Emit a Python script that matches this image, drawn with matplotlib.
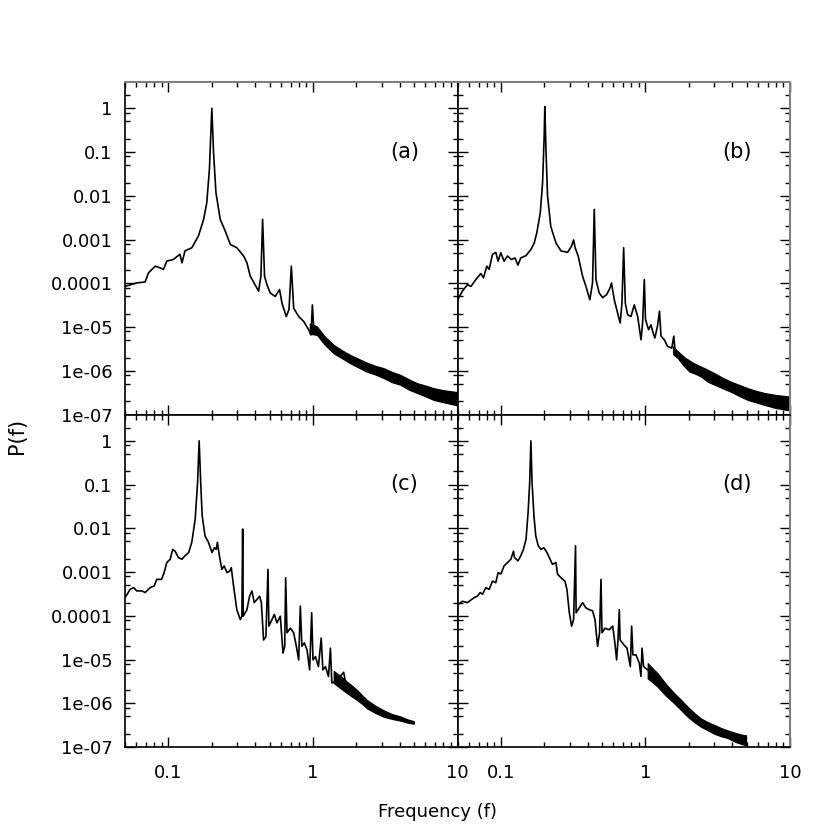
import matplotlib
matplotlib.use("Agg")
import matplotlib.pyplot as plt
from matplotlib.ticker import FixedLocator, LogLocator, NullFormatter

# ---------------- data ----------------
# panel (a)
fa = [0.05, 0.0604, 0.0689, 0.0727, 0.0809, 0.0875, 0.0923, 0.0973, 0.108, 0.120,
      0.124, 0.130, 0.145, 0.161, 0.175, 0.184, 0.192, 0.196, 0.1995, 0.205,
      0.213, 0.228, 0.247, 0.268, 0.297, 0.331, 0.349, 0.368, 0.409, 0.420,
      0.436, 0.448, 0.462, 0.480, 0.506, 0.548, 0.587, 0.610, 0.653, 0.682,
      0.708, 0.735, 0.796, 0.861, 0.933, 0.969, 0.990, 1.01, 1.12, 1.28,
      1.39, 1.81, 2.37, 3.09, 4.03, 5.26, 6.86, 9.95]
pa = [8.5e-5, 1.02e-4, 1.07e-4, 1.73e-4, 2.46e-4, 2.25e-4, 2.08e-4, 3.22e-4, 3.5e-4, 4.6e-4,
      2.94e-4, 5.5e-4, 6.5e-4, 1.2e-3, 2.9e-3, 6.9e-3, 0.041, 0.236, 1.0, 0.098,
      0.0118, 2.9e-3, 1.56e-3, 7.7e-4, 6.5e-4, 4.2e-4, 2.94e-4, 1.45e-4, 7.8e-5, 6.6e-5,
      1.45e-4, 2.9e-3, 1.45e-4, 9.3e-5, 6.0e-5, 5.0e-5, 7.2e-5, 3.5e-5, 1.74e-5, 2.5e-5,
      2.46e-4, 2.7e-5, 1.74e-5, 1.35e-5, 8.7e-6, 6.6e-6, 3.2e-5, 1.04e-5, 6.8e-6, 4.6e-6,
      3.1e-6, 1.9e-6, 1.25e-6, 8.1e-7, 5.7e-7, 4.2e-7, 3.1e-7, 2.35e-7]
tail_fa = [0.95, 1.066, 1.2, 1.39, 1.6, 1.81, 2.05, 2.34, 2.7, 3.08, 3.5, 4.02, 4.6,
           5.26, 6.0, 6.85, 8.0, 9.7, 10.0]
tail_lo_a = [7.0e-6, 6.6e-6, 4.0e-6, 2.5e-6, 1.9e-6, 1.48e-6, 1.2e-6, 9.6e-7, 8.2e-7, 6.8e-7,
             5.5e-7, 4.8e-7, 3.7e-7, 3.1e-7, 2.6e-7, 2.15e-7, 1.9e-7, 1.65e-7, 1.6e-7]
tail_hi_a = [1.2e-5, 1.03e-5, 6.2e-6, 3.9e-6, 2.9e-6, 2.3e-6, 1.9e-6, 1.55e-6, 1.3e-6, 1.15e-6,
             9.5e-7, 8.1e-7, 6.4e-7, 5.2e-7, 4.6e-7, 4.0e-7, 3.6e-7, 3.3e-7, 3.3e-7]

# panel (b)
fb = [0.0505, 0.054, 0.0586, 0.062, 0.067, 0.0725, 0.0756, 0.0798, 0.0828, 0.0873,
      0.092, 0.0955, 0.0997, 0.105, 0.111, 0.118, 0.125, 0.131, 0.137, 0.149,
      0.161, 0.170, 0.177, 0.187, 0.194, 0.199, 0.201, 0.205, 0.210, 0.221,
      0.240, 0.260, 0.289, 0.308, 0.318, 0.326, 0.342, 0.367, 0.387, 0.412,
      0.430, 0.442, 0.454, 0.478, 0.505, 0.538, 0.568, 0.582, 0.608, 0.641,
      0.668, 0.687, 0.706, 0.725, 0.752, 0.793, 0.836, 0.883, 0.931, 0.955,
      0.981, 1.0, 1.05, 1.09, 1.13, 1.16, 1.21, 1.25, 1.28, 1.35,
      1.42, 1.52, 1.57, 1.60, 1.71, 1.96, 2.30, 2.70, 3.52, 4.59,
      5.99, 7.81, 9.9]
pb = [4.4e-5, 6.6e-5, 9.3e-5, 8.5e-5, 1.22e-4, 1.67e-4, 1.33e-4, 2.46e-4, 2.08e-4, 4.6e-4,
      5.1e-4, 3.2e-4, 5.0e-4, 3.2e-4, 4.2e-4, 3.5e-4, 3.8e-4, 2.6e-4, 3.8e-4, 4.3e-4,
      5.9e-4, 8.4e-4, 1.44e-3, 4.1e-3, 0.020, 0.236, 1.1, 0.098, 0.01, 2.0e-3,
      8.4e-4, 5.5e-4, 5.1e-4, 7.1e-4, 9.8e-4, 6.5e-4, 4.2e-4, 1.45e-4, 8.5e-5, 4.2e-5,
      1.02e-4, 4.9e-3, 1.22e-4, 6.0e-5, 4.7e-5, 5.5e-5, 7.8e-5, 1.02e-4, 4.2e-5, 2.1e-5,
      1.23e-5, 3.5e-5, 6.5e-4, 3.5e-5, 1.9e-5, 1.74e-5, 3.2e-5, 1.74e-5, 5.1e-6, 1.23e-5,
      1.22e-4, 1.48e-5, 8.7e-6, 1.12e-5, 7.3e-6, 5.6e-6, 1.04e-5, 2.3e-5, 6.2e-6, 5.1e-6,
      3.6e-6, 3.3e-6, 6.2e-6, 3.0e-6, 2.1e-6, 1.78e-6, 1.25e-6, 9.6e-7, 5.7e-7, 4.0e-7,
      2.8e-7, 2.15e-7, 1.8e-7]
tail_fb = [1.55, 1.67, 1.84, 2.01, 2.2, 2.42, 2.7, 3.0, 3.4, 3.91, 4.5, 5.1, 5.8, 6.67,
           8.0, 9.68, 10.0]
tail_lo_b = [2.4e-6, 1.95e-6, 1.3e-6, 9.6e-7, 8.6e-7, 7.4e-7, 5.6e-7, 4.8e-7, 4.0e-7, 3.3e-7,
             2.6e-7, 2.15e-7, 1.9e-7, 1.65e-7, 1.4e-7, 1.26e-7, 1.25e-7]
tail_hi_b = [3.6e-6, 2.8e-6, 2.1e-6, 1.62e-6, 1.45e-6, 1.25e-6, 1.05e-6, 8.8e-7, 7.0e-7, 5.6e-7,
             4.7e-7, 4.0e-7, 3.5e-7, 3.1e-7, 2.8e-7, 2.6e-7, 2.6e-7]

# panel (c)
fc = [0.0508, 0.0542, 0.0572, 0.0604, 0.0654, 0.0689, 0.0746, 0.0796, 0.083, 0.0895,
      0.0933, 0.0973, 0.1027, 0.107, 0.111, 0.117, 0.124, 0.130, 0.138, 0.145,
      0.153, 0.159, 0.163, 0.167, 0.171, 0.179, 0.189, 0.200, 0.208, 0.214,
      0.218, 0.225, 0.234, 0.243, 0.254, 0.265, 0.272, 0.282, 0.297, 0.314,
      0.322, 0.326, 0.329, 0.349, 0.364, 0.378, 0.392, 0.409, 0.427, 0.439,
      0.455, 0.472, 0.488, 0.495, 0.520, 0.540, 0.563, 0.594, 0.620, 0.637,
      0.647, 0.661, 0.697, 0.735, 0.767, 0.796, 0.817, 0.838, 0.871, 0.909,
      0.948, 0.979, 1.0, 1.04, 1.09, 1.14, 1.17, 1.22, 1.28, 1.32,
      1.35, 1.47, 1.63, 1.72, 2.02, 2.37, 3.09, 4.03, 4.98]
pc = [2.8e-4, 4.0e-4, 4.4e-4, 3.7e-4, 3.7e-4, 3.4e-4, 4.4e-4, 4.8e-4, 6.8e-4, 6.8e-4,
      9.7e-4, 1.65e-3, 1.96e-3, 3.3e-3, 3.0e-3, 2.15e-3, 1.96e-3, 2.35e-3, 2.8e-3, 4.8e-3,
      0.0163, 0.114, 1.0, 0.114, 0.0195, 6.7e-3, 4.8e-3, 2.8e-3, 3.6e-3, 3.3e-3,
      4.8e-3, 2.35e-3, 1.15e-3, 1.38e-3, 9.7e-4, 1.05e-3, 1.26e-3, 4.8e-4, 1.38e-4, 8.2e-5,
      9.8e-5, 9.6e-3, 9.8e-5, 1.38e-4, 2.8e-4, 3.7e-4, 2.0e-4, 2.35e-4, 2.8e-4, 2.0e-4,
      2.8e-5, 3.3e-5, 1.15e-3, 5.8e-5, 8.2e-5, 1.07e-4, 6.9e-5, 9.8e-5, 1.4e-5, 2.0e-5,
      7.4e-4, 4.1e-5, 5.2e-5, 4.1e-5, 2.0e-5, 9.8e-6, 1.66e-4, 2.0e-5, 2.4e-5, 1.66e-5,
      5.8e-6, 1.17e-4, 9.8e-6, 1.17e-5, 6.9e-6, 3.1e-5, 5.8e-6, 6.9e-6, 4.1e-6, 1.82e-5,
      2.9e-6, 3.4e-6, 5.1e-6, 2.0e-6, 1.41e-6, 9.1e-7, 5.9e-7, 4.5e-7, 3.6e-7]
tail_fc = [1.39, 1.55, 1.72, 1.87, 2.02, 2.2, 2.37, 2.7, 3.09, 3.5, 4.03, 4.5, 4.98]
tail_lo_c = [2.9e-6, 2.2e-6, 1.7e-6, 1.4e-6, 1.18e-6, 9.5e-7, 7.6e-7, 6.0e-7, 4.9e-7, 4.4e-7,
             4.0e-7, 3.6e-7, 3.4e-7]
tail_hi_c = [5.5e-6, 4.2e-6, 3.1e-6, 2.5e-6, 2.0e-6, 1.5e-6, 1.18e-6, 8.8e-7, 6.9e-7, 5.7e-7,
             5.0e-7, 4.3e-7, 3.9e-7]

# panel (d)
fd = [0.0505, 0.054, 0.0586, 0.0625, 0.0652, 0.0686, 0.0718, 0.0745, 0.0785, 0.0828,
      0.0873, 0.092, 0.0955, 0.0997, 0.105, 0.111, 0.117, 0.122, 0.124, 0.131,
      0.137, 0.143, 0.149, 0.154, 0.158, 0.161, 0.164, 0.169, 0.174, 0.181,
      0.189, 0.198, 0.208, 0.216, 0.227, 0.240, 0.246, 0.260, 0.277, 0.286,
      0.297, 0.308, 0.318, 0.328, 0.331, 0.348, 0.367, 0.387, 0.408, 0.430,
      0.447, 0.466, 0.481, 0.492, 0.500, 0.524, 0.561, 0.593, 0.614, 0.631,
      0.645, 0.659, 0.667, 0.706, 0.745, 0.785, 0.802, 0.818, 0.859, 0.906,
      0.930, 0.946, 0.970, 1.035, 1.12, 1.21, 1.35, 1.58, 1.96, 2.42,
      3.0, 3.71, 4.59, 4.97]
pd_ = [1.8e-4, 2.15e-4, 2.0e-4, 2.35e-4, 2.6e-4, 2.8e-4, 3.4e-4, 3.1e-4, 4.4e-4, 4.0e-4,
       6.2e-4, 5.7e-4, 9.7e-4, 9.0e-4, 1.38e-3, 1.65e-3, 1.96e-3, 3.0e-3, 2.15e-3, 1.8e-3,
       2.35e-3, 3.3e-3, 5.6e-3, 0.0233, 0.114, 1.0, 0.114, 0.0195, 6.7e-3, 4.0e-3,
       3.3e-3, 3.6e-3, 2.8e-3, 2.15e-3, 1.5e-3, 1.65e-3, 9.0e-4, 7.4e-4, 6.2e-4, 4.0e-4,
       1.17e-4, 5.8e-5, 8.2e-5, 4.0e-3, 1.17e-4, 1.52e-4, 2.0e-4, 1.52e-4, 1.38e-4, 1.3e-4,
       8.2e-5, 2.0e-5, 4.1e-5, 6.8e-4, 4.1e-5, 5.2e-5, 4.8e-5, 5.8e-5, 2.4e-5, 9.8e-6,
       2.8e-5, 1.38e-4, 2.8e-5, 2.2e-5, 1.82e-5, 6.9e-6, 5.8e-5, 1.28e-5, 1.28e-5, 8.3e-6,
       4.1e-6, 1.82e-5, 6.9e-6, 5.8e-6, 4.9e-6, 3.4e-6, 2.4e-6, 1.29e-6, 6.3e-7, 3.7e-7,
       2.6e-7, 2.0e-7, 1.55e-7, 1.42e-7]
tail_fd = [1.035, 1.12, 1.21, 1.38, 1.58, 1.76, 1.96, 2.2, 2.42, 2.7, 3.0, 3.35, 3.71,
           4.2, 4.7, 4.97]
tail_lo_d = [3.7e-6, 3.0e-6, 2.4e-6, 1.5e-6, 1.0e-6, 7.0e-7, 4.9e-7, 3.6e-7, 2.9e-7, 2.4e-7,
             2.0e-7, 1.75e-7, 1.6e-7, 1.3e-7, 1.15e-7, 1.1e-7]
tail_hi_d = [8.3e-6, 6.3e-6, 4.9e-6, 2.8e-6, 1.7e-6, 1.2e-6, 8.3e-7, 5.8e-7, 4.5e-7, 3.7e-7,
             3.2e-7, 2.7e-7, 2.4e-7, 2.1e-7, 1.9e-7, 1.85e-7]

panel_labels = ["(a)", "(b)", "(c)", "(d)"]
ytick_vals = [1e-7, 1e-6, 1e-5, 1e-4, 1e-3, 1e-2, 1e-1, 1]
ytick_labels = ["1e-07", "1e-06", "1e-05", "0.0001", "0.001", "0.01", "0.1", "1"]
xtick_vals = [0.1, 1, 10]
xtick_labels = ["0.1", "1", "10"]

series = [(fa, pa, tail_fa, tail_lo_a, tail_hi_a),
          (fb, pb, tail_fb, tail_lo_b, tail_hi_b),
          (fc, pc, tail_fc, tail_lo_c, tail_hi_c),
          (fd, pd_, tail_fd, tail_lo_d, tail_hi_d)]

# ---------------- figure ----------------
plt.rcParams['font.family'] = ['DejaVu Sans']
fig = plt.figure(figsize=(8.3, 8.3), dpi=100)
gs = fig.add_gridspec(2, 2, left=125/830, right=790/830, top=1-82/830, bottom=1-747/830,
                      hspace=0, wspace=0)

GRAY = '#7f7f7f'
for i, (f, p, tf, tlo, thi) in enumerate(series):
    r, c = divmod(i, 2)
    ax = fig.add_subplot(gs[r, c])
    ax.set_xscale('log')
    ax.set_yscale('log')
    ax.fill_between(tf, tlo, thi, facecolor='black', edgecolor='black', lw=0.8)
    ax.plot(f, p, color='black', lw=1.2)
    ax.set_xlim(0.05, 10)
    ax.set_ylim(1e-7, 4)

    ax.yaxis.set_major_locator(FixedLocator(ytick_vals))
    ax.yaxis.set_minor_locator(LogLocator(base=10, subs=(2, 5, 8), numticks=20))
    ax.yaxis.set_minor_formatter(NullFormatter())
    ax.xaxis.set_major_locator(FixedLocator(xtick_vals))
    ax.xaxis.set_minor_locator(LogLocator(base=10, subs=(2, 3, 4, 5, 6, 7, 8, 9), numticks=20))
    ax.xaxis.set_minor_formatter(NullFormatter())

    if c == 0:
        ax.set_yticklabels(ytick_labels)
    else:
        ax.set_yticklabels([])
    if r == 1:
        ax.set_xticklabels(xtick_labels)
    else:
        ax.set_xticklabels([])

    ax.tick_params(which='both', direction='in', top=True, right=True, width=1.0,
                   labelsize=13, colors='black')
    ax.tick_params(which='major', length=7)
    ax.tick_params(which='minor', length=3.5)
    ax.tick_params(axis='y', pad=9)
    ax.tick_params(axis='x', pad=12)

    for s in ('left', 'bottom'):
        ax.spines[s].set_color('black')
        ax.spines[s].set_linewidth(1.2)
    ax.spines['top'].set_color(GRAY if r == 0 else 'black')
    ax.spines['top'].set_linewidth(1.5 if r == 0 else 1.2)
    ax.spines['right'].set_color(GRAY if c == 1 else 'black')
    ax.spines['right'].set_linewidth(1.5 if c == 1 else 1.2)

    ax.text(0.84, 0.79, panel_labels[i], transform=ax.transAxes, fontsize=15,
            ha='center', va='center')

fig.text(437/830, 1-812/830, "Frequency (f)", ha='center', va='center', fontsize=13)
fig.text(17/830, 1-436/830, "P(f)", ha='center', va='center', fontsize=15, rotation=90)

fig.savefig("out.png", dpi=100)
